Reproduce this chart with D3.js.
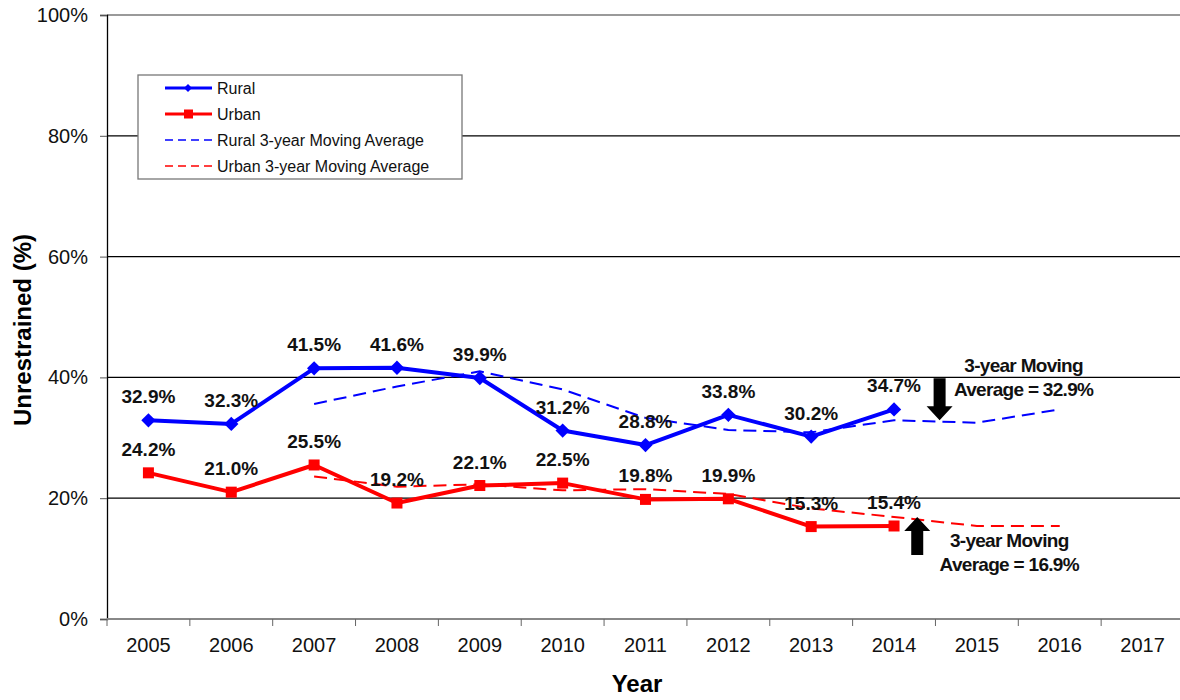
<!DOCTYPE html>
<html>
<head>
<meta charset="utf-8">
<script src="https://cdn.jsdelivr.net/npm/d3@7"></script>
<style>
  body { margin: 0; background: #fff; }
  svg { display: block; font-family: "Liberation Sans", Arial, sans-serif; }
</style>
</head>
<body>
<svg id="chart" width="1180" height="700"></svg>
<script>
var years = ["2005", "2006", "2007", "2008", "2009", "2010", "2011", "2012", "2013", "2014", "2015", "2016", "2017"];
var dataYears = ["2005", "2006", "2007", "2008", "2009", "2010", "2011", "2012", "2013", "2014"];
var rural = [32.9, 32.3, 41.5, 41.6, 39.9, 31.2, 28.8, 33.8, 30.2, 34.7];
var urban = [24.2, 21.0, 25.5, 19.2, 22.1, 22.5, 19.8, 19.9, 15.3, 15.4];
var maYears = ["2007", "2008", "2009", "2010", "2011", "2012", "2013", "2014", "2015", "2016"];
var ruralMA = [35.6, 38.5, 41.0, 38.0, 33.3, 31.3, 30.9, 32.9, 32.5, 34.7];
var urbanMA = [23.6, 21.9, 22.3, 21.3, 21.5, 20.7, 18.3, 16.9, 15.4, 15.4];
var yTicks = [0, 20, 40, 60, 80, 100];
var legendItems = ["Rural", "Urban", "Rural 3-year Moving Average", "Urban 3-year Moving Average"];
var notes = [
  {year: "2015", value: 32.9, dir: "down", lines: ["3-year Moving", "Average = 32.9%"]},
  {year: "2014", value: 16.9, dir: "up", lines: ["3-year Moving", "Average = 16.9%"]}
];

var svg = d3.select("#chart"),
    margin = {top: 15, right: -4, bottom: 81, left: 107},
    width = +svg.attr("width") - margin.left - margin.right,
    height = +svg.attr("height") - margin.top - margin.bottom;

var x = d3.scaleBand().domain(years).range([0, width]),
    y = d3.scaleLinear().domain([0, 100]).range([height, 0]);

var cx = function(yr) { return x(yr) + x.bandwidth() / 2; };

var g = svg.append("g")
    .attr("transform", "translate(" + margin.left + "," + margin.top + ")");

// gridlines
g.selectAll(".grid")
  .data(yTicks.filter(function(d) { return d > 0; }))
  .enter().append("line")
    .attr("x1", 0).attr("x2", width)
    .attr("y1", function(d) { return y(d); })
    .attr("y2", function(d) { return y(d); })
    .attr("stroke", function(d) { return d == 100 ? "#9a9a9a" : "#000"; })
    .attr("stroke-width", function(d) { return d == 100 ? 2 : 1.3; });

// y axis
var yAxis = g.append("g")
    .call(d3.axisLeft(y).tickValues(yTicks).tickSize(7).tickPadding(12)
      .tickFormat(function(d) { return d + "%"; }));
yAxis.select(".domain").attr("stroke", "#000").attr("stroke-width", 1.3);
yAxis.selectAll(".tick line").attr("stroke", "#555");
yAxis.selectAll("text").attr("font-size", 20).attr("fill", "#111")
    .attr("font-family", "Liberation Sans, Arial, sans-serif");

// x axis with ticks at band edges
var xg = g.append("g").attr("transform", "translate(0," + height + ")");
xg.append("line").attr("x1", 0).attr("x2", width)
    .attr("stroke", "#888").attr("stroke-width", 2);
xg.selectAll(".xtick")
  .data(years)
  .enter().append("line")
    .attr("x1", function(d) { return x(d); })
    .attr("x2", function(d) { return x(d); })
    .attr("y1", 0).attr("y2", 7)
    .attr("stroke", "#666");
xg.selectAll(".xlabel")
  .data(years)
  .enter().append("text")
    .attr("x", function(d) { return cx(d); })
    .attr("y", 33)
    .attr("text-anchor", "middle")
    .attr("font-size", 20)
    .attr("fill", "#111")
    .text(function(d) { return d; });

// axis titles
svg.append("text")
    .attr("x", 637).attr("y", 692)
    .attr("text-anchor", "middle")
    .attr("font-size", 24).attr("font-weight", "bold")
    .text("Year");
svg.append("text")
    .attr("transform", "translate(31,330) rotate(-90)")
    .attr("text-anchor", "middle")
    .attr("font-size", 24).attr("font-weight", "bold")
    .text("Unrestrained (%)");

// moving averages
var line = d3.line()
    .x(function(d) { return cx(d[0]); })
    .y(function(d) { return y(d[1]); });

g.append("path")
    .datum(d3.zip(maYears, ruralMA))
    .attr("fill", "none").attr("stroke", "#0000ff")
    .attr("stroke-width", 2).attr("stroke-dasharray", "13,7")
    .attr("d", line);
g.append("path")
    .datum(d3.zip(maYears, urbanMA))
    .attr("fill", "none").attr("stroke", "#ff0000")
    .attr("stroke-width", 2).attr("stroke-dasharray", "13,7")
    .attr("d", line);

// main series
g.append("path")
    .datum(d3.zip(dataYears, rural))
    .attr("fill", "none").attr("stroke", "#0000ff")
    .attr("stroke-width", 4).attr("stroke-linejoin", "round")
    .attr("d", line);
g.append("path")
    .datum(d3.zip(dataYears, urban))
    .attr("fill", "none").attr("stroke", "#ff0000")
    .attr("stroke-width", 4).attr("stroke-linejoin", "round")
    .attr("d", line);

var diamond = d3.symbol().type(d3.symbolDiamond2).size(130);
g.selectAll(".rpt")
  .data(d3.zip(dataYears, rural))
  .enter().append("path")
    .attr("transform", function(d) { return "translate(" + cx(d[0]) + "," + y(d[1]) + ")"; })
    .attr("d", diamond)
    .attr("fill", "#0000ff");
g.selectAll(".upt")
  .data(d3.zip(dataYears, urban))
  .enter().append("rect")
    .attr("x", function(d) { return cx(d[0]) - 5.5; })
    .attr("y", function(d) { return y(d[1]) - 5.5; })
    .attr("width", 11).attr("height", 11)
    .attr("fill", "#ff0000");

// data labels
[rural, urban].forEach(function(vals) {
  g.selectAll(null)
    .data(d3.zip(dataYears, vals))
    .enter().append("text")
      .attr("x", function(d) { return cx(d[0]); })
      .attr("y", function(d) { return y(d[1]) - 17; })
      .attr("text-anchor", "middle")
      .attr("font-size", 19).attr("font-weight", "bold")
      .attr("fill", "#111")
      .text(function(d) { return d[1].toFixed(1) + "%"; });
});

// annotations: arrow pointing at the latest moving average, text beside it
notes.forEach(function(n) {
  var down = n.dir == "down",
      ax = x(n.year) + x.bandwidth() * (down ? 0.05 : 0.78),
      ty = y(n.value),
      s = down ? -1 : 1,
      len = down ? 42 : 38;
  var pts = [
    [ax, ty],
    [ax - 13, ty + s * 14],
    [ax - 6, ty + s * 14],
    [ax - 6, ty + s * len],
    [ax + 6, ty + s * len],
    [ax + 6, ty + s * 14],
    [ax + 13, ty + s * 14]
  ];
  g.append("polygon")
    .attr("points", pts.map(function(p) { return p.join(","); }).join(" "))
    .attr("fill", "#000");
  var tx = ax + (down ? 84 : 92),
      t0 = down ? ty - 48 : ty + 30;
  n.lines.forEach(function(l, i) {
    g.append("text")
      .attr("x", tx).attr("y", t0 + i * 24)
      .attr("text-anchor", "middle")
      .attr("font-size", 19).attr("font-weight", "bold")
      .attr("letter-spacing", -0.7)
      .attr("fill", "#111")
      .text(l);
  });
});

// legend
var lg = svg.append("g").attr("transform", "translate(138,75)");
lg.append("rect")
    .attr("x", 0).attr("y", 0).attr("width", 324).attr("height", 104)
    .attr("fill", "#fff").attr("stroke", "#777").attr("stroke-width", 1.3);
legendItems.forEach(function(name, i) {
  var ly = 13 + i * 26,
      col = i % 2 == 0 ? "#0000ff" : "#ff0000";
  lg.append("line")
    .attr("x1", 27).attr("x2", 74).attr("y1", ly).attr("y2", ly)
    .attr("stroke", col)
    .attr("stroke-width", i < 2 ? 3 : 1.5)
    .attr("stroke-dasharray", i < 2 ? null : "8,5");
  if (i == 0) {
    lg.append("path").attr("transform", "translate(50," + ly + ")")
      .attr("d", d3.symbol().type(d3.symbolDiamond2).size(40)).attr("fill", col);
  } else if (i == 1) {
    lg.append("rect").attr("x", 46).attr("y", ly - 4.5)
      .attr("width", 9).attr("height", 9).attr("fill", col);
  }
  lg.append("text")
    .attr("x", 79).attr("y", ly + 5.5)
    .attr("font-size", 16).attr("fill", "#111")
    .text(name);
});
</script>
</body>
</html>
